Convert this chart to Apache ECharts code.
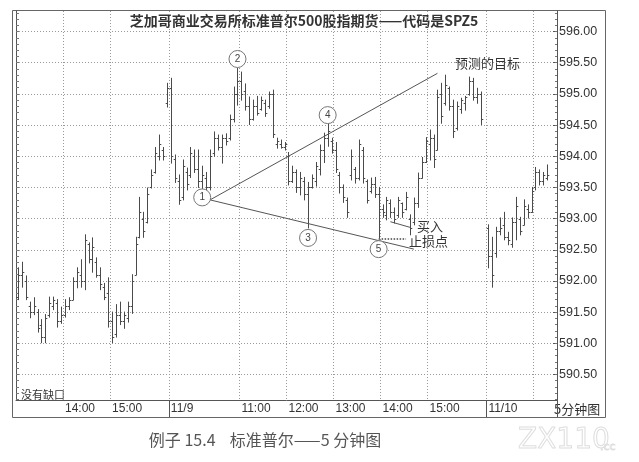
<!DOCTYPE html>
<html><head><meta charset="utf-8">
<script src="https://cdn.jsdelivr.net/npm/echarts@6/dist/echarts.min.js"></script>
<style>html,body{margin:0;padding:0;background:#fff}#c{width:639px;height:462px}</style>
</head><body><div id="c"></div><script>
// ---- data: 5-minute OHLC bars [open, high, low, close] ----
const day1Label = '11/8', day1StartTime = [13, 0], day1Slots = 39;
const day2Label = '11/9', day2StartTime = [9, 30], day2Slots = 81;
const day3Label = '11/10', day3StartTime = [9, 30], day3Slots = 18;

const day1Bars = [
[591.75,592.21,591.70,592.10],[592.10,592.30,591.90,592.15],[592.00,592.08,591.70,591.75],
[591.60,591.66,591.41,591.50],[591.50,591.73,591.46,591.60],[591.50,591.54,591.18,591.25],
[591.30,591.38,591.01,591.10],[591.10,591.46,591.01,591.40],[591.45,591.74,591.42,591.65],
[591.60,591.74,591.54,591.70],[591.65,591.70,591.26,591.35],[591.35,591.58,591.32,591.45],
[591.45,591.70,591.42,591.60],[591.60,591.73,591.54,591.70],[591.70,592.05,591.70,592.00],
[592.00,592.21,591.89,592.15],[592.10,592.34,591.90,592.00],[592.00,592.74,591.86,592.65],
[592.60,592.61,592.29,592.35],[592.35,592.69,592.14,592.55],[592.30,592.37,592.06,592.10],
[592.10,592.21,591.86,591.95],[591.90,591.96,591.70,591.75],[591.80,592.05,591.26,591.35],
[591.35,591.50,591.01,591.10],[591.15,591.62,591.10,591.45],[591.45,591.66,591.30,591.35],
[591.35,591.50,591.24,591.45],[591.40,591.66,591.34,591.60],[591.60,592.10,591.48,592.00],
[592.10,592.70,592.10,592.60],[592.70,593.34,592.69,593.10],[593.00,593.10,592.70,592.80],
[592.95,593.49,592.93,593.40],[593.50,593.78,593.49,593.70],[593.75,594.14,593.73,594.05],
[594.00,594.34,593.94,594.20],[594.10,594.14,593.94,594.00],[594.85,595.17,594.79,595.10]
];
const day2Bars = [
[595.10,595.25,593.89,594.00],[593.95,594.02,593.58,593.65],[593.60,593.70,593.23,593.30],
[593.35,593.94,593.30,593.85],[593.75,593.81,593.46,593.55],[593.70,594.14,593.66,594.05],
[594.00,594.10,593.74,593.80],[593.80,594.10,593.50,593.60],[593.60,593.84,593.46,593.70],
[593.65,593.74,593.46,593.50],[593.50,594.10,593.46,594.00],[594.05,594.39,594.00,594.30],
[594.30,594.34,594.10,594.15],[594.15,594.34,593.89,594.30],[594.30,594.36,594.18,594.25],
[594.30,594.66,594.26,594.60],[594.60,595.11,594.55,595.00],[595.00,595.41,594.82,595.20],
[595.20,595.35,594.90,595.00],[595.05,595.16,594.74,594.80],[594.80,594.95,594.51,594.60],
[594.60,594.90,594.58,594.80],[594.80,594.96,594.66,594.70],[594.75,594.95,594.74,594.90],
[594.85,594.90,594.64,594.70],[594.80,595.03,594.77,595.00],[595.00,595.06,594.30,594.35],
[594.20,594.29,594.13,594.25],[594.20,594.26,594.13,594.15],[594.15,594.22,594.10,594.20],
[594.00,594.06,593.54,593.60],[593.60,593.84,593.58,593.75],[593.75,593.78,593.42,593.50],
[593.50,593.74,593.38,593.65],[593.60,593.66,593.30,593.40],[593.40,593.58,592.85,593.50],
[593.50,593.70,593.49,593.65],[593.60,593.90,593.52,593.85],[593.80,594.18,593.70,594.10],
[594.10,594.37,593.90,594.30],[594.30,594.51,594.16,594.40],[594.25,594.29,594.05,594.10],
[594.10,594.22,593.74,593.80],[593.70,593.74,593.41,593.50],[593.50,593.54,593.26,593.35],
[593.30,593.33,593.02,593.10],[593.70,594.10,593.62,594.00],[593.80,593.82,593.57,593.65],
[593.65,594.26,593.62,594.20],[594.10,594.14,593.57,593.65],[593.60,593.62,593.25,593.30],
[593.45,593.65,593.41,593.55],[593.55,593.66,593.34,593.40],[593.40,593.50,592.69,593.15],
[593.15,593.22,593.02,593.10],[593.05,593.34,592.98,593.30],[593.25,593.30,593.02,593.10],
[593.10,593.17,592.93,593.00],[593.05,593.34,593.02,593.30],[593.25,593.25,593.02,593.10],
[593.15,593.42,593.14,593.35],[593.00,593.06,592.74,592.85],[592.95,593.33,592.90,593.25],
[593.25,593.73,593.18,593.65],[593.65,593.98,593.65,593.90],[593.90,594.30,593.90,594.25],
[594.20,594.42,593.94,594.30],[594.30,594.34,593.82,593.95],[594.10,595.06,594.10,594.95],
[595.00,595.17,594.53,594.65],[594.85,595.30,594.82,595.15],[595.10,595.11,594.74,594.80],
[594.80,594.90,594.30,594.40],[594.45,594.87,594.42,594.80],[594.75,594.93,594.69,594.90],
[594.85,594.96,594.74,594.95],[595.00,595.27,594.98,595.20],[595.20,595.25,594.90,594.95],
[594.95,595.09,594.85,595.00],[595.00,595.03,594.51,594.60],null
];
const day3Bars = [
[592.85,592.90,592.21,592.40],[592.40,592.70,591.90,592.10],[592.45,592.86,592.38,592.80],
[592.80,593.01,592.74,592.85],[592.90,593.10,592.66,592.70],[592.70,592.78,592.58,592.65],
[592.60,593.01,592.54,592.95],[592.95,593.34,592.66,593.20],[593.00,593.02,592.74,592.80],
[592.90,593.30,592.90,593.20],[593.15,593.22,593.01,593.10],[593.10,593.50,593.10,593.45],
[593.50,593.82,593.46,593.75],[593.75,593.78,593.54,593.60],[593.60,593.74,593.54,593.70],
[593.65,593.86,593.62,593.70],null,null
];

// tick labels shown on the time axis (category -> text)
const timeTickLabels = {
  '11/8 14:00':'14:00', '11/8 15:00':'15:00',
  '11/9 09:30':'11/9', '11/9 11:00':'11:00', '11/9 12:00':'12:00', '11/9 13:00':'13:00',
  '11/9 14:00':'14:00', '11/9 15:00':'15:00', '11/10 09:30':'11/10'
};
const timeGridLines = ['11/8 14:00','11/8 15:00','11/9 09:30','11/9 11:00','11/9 12:00','11/9 13:00',
  '11/9 14:00','11/9 15:00','11/10 09:30','11/10 10:30'];
const sessionStarts = ['11/9 09:30','11/10 09:30'];
const priceTicks = [590.5,591.0,591.5,592.0,592.5,593.0,593.5,594.0,594.5,595.0,595.5,596.0];

// wave points (label, time, price) and lines
const wavePoints = [
  ['1','11/9 09:30+8',593.34], ['2','11/9 09:30+17',595.56], ['3','11/9 09:30+35',592.69],
  ['4','11/9 09:30+40',594.66], ['5','11/9 09:30+53',592.51]
];
const upperLine = [['11/9 09:30+10',593.30],['11/9 09:30+68',595.33]];
const lowerLine = [['11/9 09:30+10',593.30],['11/9 09:30+62',592.51]];
const buyPointer = [['11/9 09:30+56',592.95],['11/9 09:30+61',592.86]];
const stopLine = [['11/9 09:30+53',592.67],['11/9 09:30+60',592.67]];

// ---- build categories ----
function pad(n){return (n<10?'0':'')+n;}
function sessionCats(day, start, n){
  const out=[]; let m=start[0]*60+start[1];
  for(let i=0;i<n;i++){out.push(day+' '+pad(Math.floor(m/60))+':'+pad(m%60)); m+=5;}
  return out;
}
const categories = [].concat(
  sessionCats(day1Label, day1StartTime, day1Slots),
  sessionCats(day2Label, day2StartTime, day2Slots),
  sessionCats(day3Label, day3StartTime, day3Slots));
const allBars = [].concat(day1Bars, day2Bars, day3Bars);
const ohlcData = [];
allBars.forEach((b,i)=>{ if(b) ohlcData.push([i,b[0],b[1],b[2],b[3]]); });

function catIndex(ref){ // 'day hh:mm+k' -> index
  const p = ref.split('+'); return categories.indexOf(p[0]) + (p[1]?parseInt(p[1]):0);
}
const gridIdx = new Set(timeGridLines.map(c=>categories.indexOf(c)));
const sepIdx = new Set(sessionStarts.map(c=>categories.indexOf(c)));

const minorTicks=[]; for(let v=5901; v<=5963; v++) minorTicks.push(v/10);

const YMIN = 590.09, YMAX = 596.33;
const ink = '#4a4a4a';

function renderOHLC(params, api){
  const i = api.value(0);
  const pO = api.coord([i, api.value(1)]);
  const pH = api.coord([i, api.value(2)]);
  const pL = api.coord([i, api.value(3)]);
  const pC = api.coord([i, api.value(4)]);
  const x = Math.round(pH[0]) + 0.5;
  const st = {stroke: ink, lineWidth: 1};
  return {type:'group', children:[
    {type:'line', shape:{x1:x,y1:pH[1]-0.5,x2:x,y2:pL[1]+0.5}, style:st},
    {type:'line', shape:{x1:x-1.8,y1:Math.round(pO[1])+0.5,x2:x,y2:Math.round(pO[1])+0.5}, style:st},
    {type:'line', shape:{x1:x,y1:Math.round(pC[1])+0.5,x2:x+1.8,y2:Math.round(pC[1])+0.5}, style:st}
  ]};
}

const lineStyleSolid = {color:'#555', width:1, type:'solid'};
const mlData = [
  [{coord:[catIndex(upperLine[0][0]), upperLine[0][1]]},{coord:[catIndex(upperLine[1][0]), upperLine[1][1]]}],
  [{coord:[catIndex(lowerLine[0][0]), lowerLine[0][1]]},{coord:[catIndex(lowerLine[1][0]), lowerLine[1][1]]}],
  [{coord:[catIndex(buyPointer[0][0]), buyPointer[0][1]]},{coord:[catIndex(buyPointer[1][0]), buyPointer[1][1]]}],
  [{coord:[catIndex(stopLine[0][0]), stopLine[0][1]], lineStyle:{type:'dotted', width:1.5, color:'#444'}},
   {coord:[catIndex(stopLine[1][0]), stopLine[1][1]]}]
];

const chart = echarts.init(document.getElementById('c'), null, {renderer:'canvas'});
chart.setOption({
  animation:false,
  backgroundColor:'#fff',
  grid:{left:16, right:82, top:11, bottom:62, containLabel:false},
  xAxis:{
    type:'category', data:categories, boundaryGap:true,
    axisLine:{show:true, lineStyle:{color:'#555', width:1}},
    axisTick:{show:true, length:17, interval:(i)=>sepIdx.has(i), lineStyle:{color:'#555'}},
    axisLabel:{show:true, interval:(i,v)=>timeTickLabels[v]!==undefined,
      formatter:(v)=>timeTickLabels[v]||'', align:'left', margin:3, color:'#333', fontSize:12,
      fontFamily:'Liberation Sans'},
    splitLine:{show:true, interval:(i)=>gridIdx.has(i), lineStyle:{color:'#9a9a9a', type:[1,2], width:1}}
  },
  yAxis:[
    {type:'value', position:'right', min:YMIN, max:YMAX,
      axisLine:{show:true, lineStyle:{color:'#555'}},
      axisTick:{show:true, inside:true, length:4, customValues:priceTicks, lineStyle:{color:'#555'}},
      axisLabel:{show:true, customValues:priceTicks, formatter:(v)=>v.toFixed(2), margin:2,
        color:'#333', fontSize:12.5, fontFamily:'Liberation Sans'},
      splitLine:{show:true, lineStyle:{color:'#9a9a9a', type:[1,2], width:1}}},
    {type:'value', position:'right', min:YMIN, max:YMAX,
      axisLine:{show:false}, axisLabel:{show:false}, splitLine:{show:false},
      axisTick:{show:true, inside:true, length:2, customValues:minorTicks, lineStyle:{color:'#777'}}},
    {type:'value', position:'left', min:YMIN, max:YMAX,
      axisLine:{show:true, lineStyle:{color:'#555'}}, axisLabel:{show:false}, splitLine:{show:false},
      axisTick:{show:true, inside:true, length:3, customValues:minorTicks, lineStyle:{color:'#777'}}}
  ],
  series:[{
    type:'custom', name:'SPZ5', renderItem:renderOHLC, data:ohlcData,
    encode:{x:0, y:[1,2,3,4]}, clip:false, silent:true,
    markLine:{silent:true, symbol:'none', label:{show:false}, lineStyle:lineStyleSolid, data:mlData, animation:false},
    markPoint:{silent:true, symbol:'circle', symbolSize:17,
      itemStyle:{color:'#fff', borderColor:'#777', borderWidth:1},
      label:{show:true, formatter:'{b}', color:'#444', fontSize:10, fontFamily:'Liberation Sans'},
      data: wavePoints.map(p=>({name:p[0], coord:[catIndex(p[1]), p[2]]}))}
  }],
  graphic:[
    {type:'rect', shape:{x:12.5, y:10.5, width:593, height:407}, style:{fill:'none', stroke:'#666', lineWidth:1}, silent:true},
    {type:'text', style:{text:'芝加哥商业交易所标准普尔500股指期货——代码是SPZ5', x:304, y:21,
      textAlign:'center', textVerticalAlign:'middle', font:'bold 14px "Noto Sans CJK SC"', fill:'#333'}},
    {type:'text', style:{text:'预测的目标', x:455, y:63, textVerticalAlign:'middle', font:'13px "Noto Sans CJK SC"', fill:'#333'}},
    {type:'text', style:{text:'买入', x:417, y:226, textVerticalAlign:'middle', font:'13px "Noto Sans CJK SC"', fill:'#333'}},
    {type:'text', style:{text:'止损点', x:409, y:241, textVerticalAlign:'middle', font:'13px "Noto Sans CJK SC"', fill:'#333'}},
    {type:'text', style:{text:'没有缺口', x:21, y:395, textVerticalAlign:'middle', font:'11px "Noto Sans CJK SC"', fill:'#333'}},
    {type:'text', style:{text:'5分钟图', x:554, y:409, textVerticalAlign:'middle', font:'13px "Noto Sans CJK SC"', fill:'#333'}},
    {type:'text', style:{text:'例子 15.4    标准普尔——5 分钟图', x:265, y:440,
      textAlign:'center', textVerticalAlign:'middle', font:'16px "Noto Sans CJK SC"', fill:'#555'}},
    {type:'text', style:{text:'ZX110', x:518, y:441, textVerticalAlign:'middle', font:'28px "DejaVu Sans"',
      fill:'rgba(0,0,0,0)', stroke:'#dedede', lineWidth:1}},
    {type:'text', style:{text:'.cc', x:600, y:447, textVerticalAlign:'middle', font:'11px "DejaVu Sans"',
      fill:'rgba(0,0,0,0)', stroke:'#dedede', lineWidth:0.8}}
  ]
});
</script></body></html>
